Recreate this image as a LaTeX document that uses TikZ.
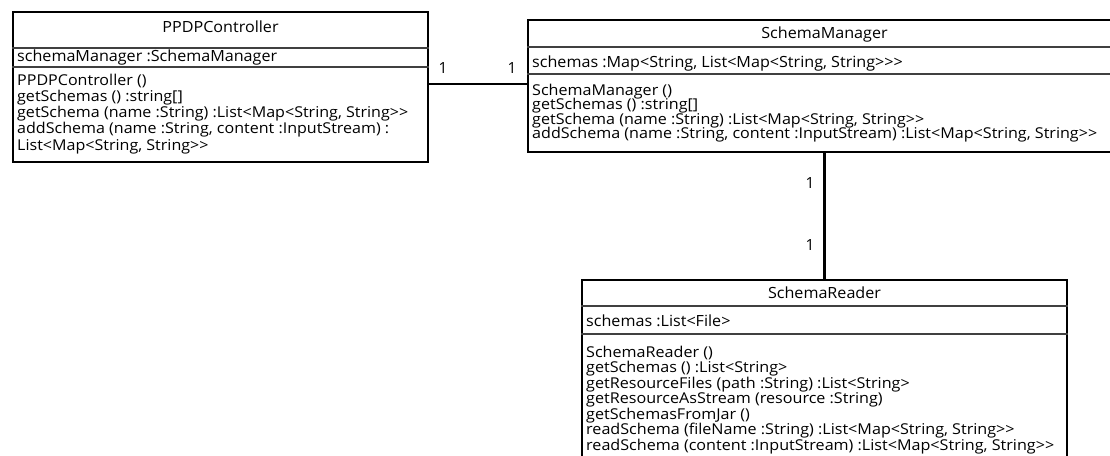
\documentclass[tikz,border=0pt]{standalone}
\usepackage{fontspec}
\setmainfont{Open Sans}[Ligatures=TeXOff]
\usepackage{graphicx}
\newsavebox\measbox
\newcommand\fitscale[3]{\sbox\measbox{#3}\pgfmathsetmacro#1{#2/\the\wd\measbox}\global\let#1#1}
\newcommand\tfont{\fontsize{15.4}{16}\selectfont}
\tikzset{
  classbox/.style={draw=black, line width=1.4pt, inner sep=0pt, fill=white},
  sepline/.style={draw=black!75, line width=1.1pt},
  conn/.style={draw=black, line width=2.2pt},
  txt/.style={inner sep=0pt, anchor=base west, text=black, font=\tfont},
  ctxt/.style={inner sep=0pt, anchor=base, text=black, font=\tfont},
  mult/.style={inner sep=0pt, text=black, font=\tfont},
}
\begin{document}
\fitscale\sxA{391}{\tfont getSchema (name :String) :List<Map<String, String>>}%
\fitscale\sxB{565}{\tfont addSchema (name :String, content :InputStream) :List<Map<String, String>>}%
\fitscale\sxC{468}{\tfont readSchema (content :InputStream) :List<Map<String, String>>}%
\fitscale\sxD{260}{\tfont schemaManager :SchemaManager}%
\def\my{0.97}%
\begin{tikzpicture}[x=1pt,y=-1pt]
\useasboundingbox (0,0) rectangle (1110,455);
\clip (0,0) rectangle (1110,455);
% ---------- PPDPController ----------
\node[classbox, minimum width=415pt, minimum height=150pt] (ppdp) at (220.5,87) {};
\draw[sepline] (ppdp.west |- 0,48) -- (ppdp.east |- 0,48);
\draw[sepline] (ppdp.west |- 0,67) -- (ppdp.east |- 0,67);
\node[ctxt] (ppdph) at (220.5,32) {\scalebox{\sxD}[1]{PPDPController}};
\node[txt] (ppdpa) at (17,61) {\scalebox{\sxD}[1]{schemaManager :SchemaManager}};
\node[txt] (ppdpm1) at (17,85) {\scalebox{\sxA}[\my]{PPDPController ()}};
\node[txt] (ppdpm2) at (17,101.25) {\scalebox{\sxA}[\my]{getSchemas () :string[]}};
\node[txt] (ppdpm3) at (17,117.5) {\scalebox{\sxA}[\my]{getSchema (name :String) :List<Map<String, String>>}};
\node[txt] (ppdpm4) at (17,133.75) {\scalebox{\sxA}[\my]{addSchema (name :String, content :InputStream) :}};
\node[txt] (ppdpm5) at (17,150) {\scalebox{\sxA}[\my]{List<Map<String, String>>}};
% ---------- SchemaManager ----------
\node[classbox, minimum width=593pt, minimum height=132pt] (sm) at (824.5,86) {};
\draw[sepline] (sm.west |- 0,47) -- (sm.east |- 0,47);
\draw[sepline] (sm.west |- 0,74) -- (sm.east |- 0,74);
\node[ctxt] (smh) at (824.5,38) {\scalebox{\sxD}[1]{SchemaManager}};
\node[txt] (sma) at (532,67) {\scalebox{\sxD}[1]{schemas :Map<String, List<Map<String, String>>>}};
\node[txt] (smm1) at (532,95) {\scalebox{\sxB}[\my]{SchemaManager ()}};
\node[txt] (smm2) at (532,109.5) {\scalebox{\sxB}[\my]{getSchemas () :string[]}};
\node[txt] (smm3) at (532,124) {\scalebox{\sxB}[\my]{getSchema (name :String) :List<Map<String, String>>}};
\node[txt] (smm4) at (532,138.5) {\scalebox{\sxB}[\my]{addSchema (name :String, content :InputStream) :List<Map<String, String>>}};
% ---------- SchemaReader ----------
\node[classbox, minimum width=485pt, minimum height=200pt] (sr) at (824.5,380) {};
\draw[sepline] (sr.west |- 0,306) -- (sr.east |- 0,306);
\draw[sepline] (sr.west |- 0,334) -- (sr.east |- 0,334);
\node[ctxt] (srh) at (824.5,298) {\scalebox{\sxD}[1]{SchemaReader}};
\node[txt] (sra) at (586,326.5) {\scalebox{\sxD}[1]{schemas :List<File>}};
\node[txt] (srm1) at (586,357) {\scalebox{\sxC}[\my]{SchemaReader ()}};
\node[txt] (srm2) at (586,372.5) {\scalebox{\sxC}[\my]{getSchemas () :List<String>}};
\node[txt] (srm3) at (586,388) {\scalebox{\sxC}[\my]{getResourceFiles (path :String) :List<String>}};
\node[txt] (srm4) at (586,403.5) {\scalebox{\sxC}[\my]{getResourceAsStream (resource :String)}};
\node[txt] (srm5) at (586,419) {\scalebox{\sxC}[\my]{getSchemasFromJar ()}};
\node[txt] (srm6) at (586,434.5) {\scalebox{\sxC}[\my]{readSchema (fileName :String) :List<Map<String, String>>}};
\node[txt] (srm7) at (586,450) {\scalebox{\sxC}[\my]{readSchema (content :InputStream) :List<Map<String, String>>}};
% ---------- connectors ----------
\draw[conn] ([yshift=3pt]ppdp.east) -- ([yshift=2pt]sm.west);
\draw[conn] (sm.south) -- (sr.north);
\node[mult] (m1) at (443,68) {1};
\node[mult] (m2) at (512,68) {1};
\node[mult] (m3) at (810,183) {1};
\node[mult] (m4) at (810,245) {1};
\end{tikzpicture}
\end{document}
